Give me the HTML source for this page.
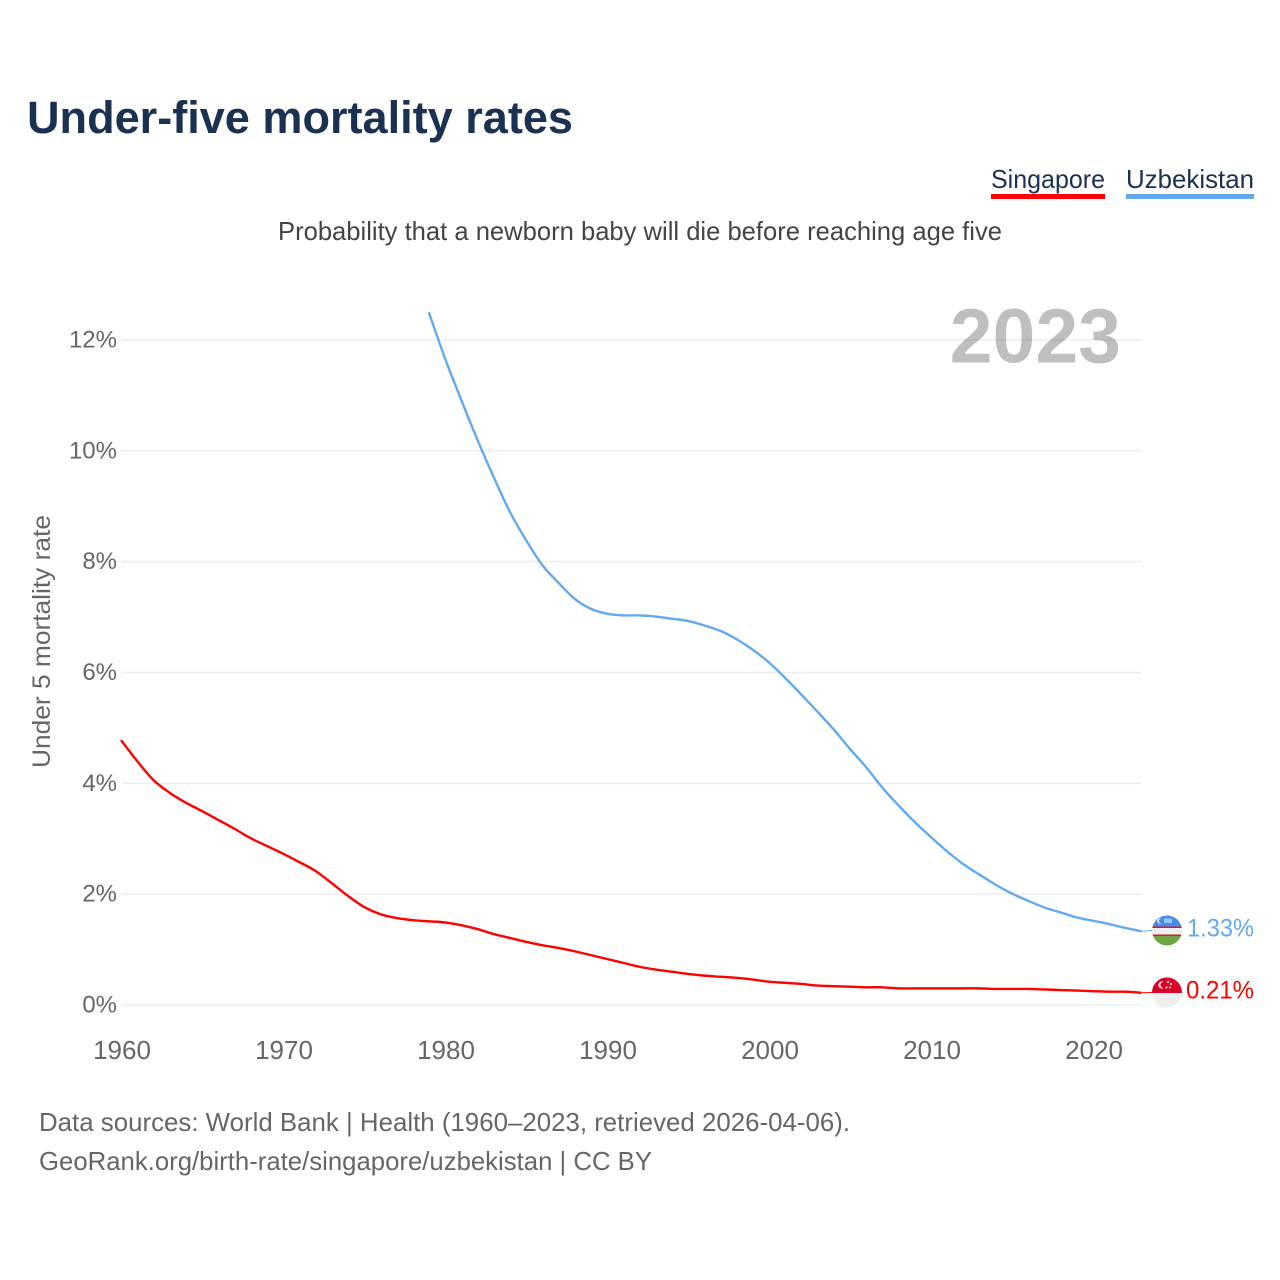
<!DOCTYPE html>
<html lang="en">
<head>
<meta charset="utf-8">
<title>Under-five mortality rates</title>
<style>
html,body{margin:0;padding:0;background:#fff;width:1280px;height:1280px;overflow:hidden}
svg{display:block}
text{font-family:"Liberation Sans",sans-serif}
</style>
</head>
<body>
<svg id="chart" xmlns="http://www.w3.org/2000/svg" width="1280" height="1280" viewBox="0 0 1280 1280">
  <defs>
    <clipPath id="clip-uz"><circle cx="1167" cy="930.5" r="15"/></clipPath>
    <clipPath id="clip-sg"><circle cx="1167" cy="992.5" r="15"/></clipPath>
  </defs>
  <rect width="1280" height="1280" fill="#fff"/>
  <text x="27" y="133" font-size="45" font-weight="700" fill="#1a3152" textLength="546" lengthAdjust="spacingAndGlyphs">Under-five mortality rates</text>

  <g style="cursor:pointer">
    <text x="991" y="188" font-size="26" fill="#1a3152" textLength="114" lengthAdjust="spacingAndGlyphs">Singapore</text>
    <rect x="991" y="194" width="114" height="5" fill="#ff0000"/>
  </g>
  <g style="cursor:pointer">
    <text x="1126" y="188" font-size="26" fill="#1a3152" textLength="128" lengthAdjust="spacingAndGlyphs">Uzbekistan</text>
    <rect x="1126" y="194" width="128" height="5" fill="#62a9ee"/>
  </g>

  <text x="278" y="240" font-size="26" fill="#444" textLength="724" lengthAdjust="spacingAndGlyphs">Probability that a newborn baby will die before reaching age five</text>

  <g id="grid"></g>
  <g id="yticks"></g>
  <g id="xticks"></g>

  <text x="1121" y="362.5" text-anchor="end" font-size="77" font-weight="700" fill="#000" fill-opacity="0.25">2023</text>

  <text transform="translate(50,768) rotate(-90)" x="0" y="0" font-size="25" fill="#666" textLength="253" lengthAdjust="spacingAndGlyphs">Under 5 mortality rate</text>

  <g id="series"></g>

  <g clip-path="url(#clip-uz)">
    <rect x="1152" y="915" width="30" height="12" fill="#3f8eea"/>
    <rect x="1152" y="926.5" width="30" height="1.6" fill="#e8112d"/>
    <rect x="1152" y="928" width="30" height="7" fill="#eeeeee"/>
    <rect x="1152" y="934.5" width="30" height="1.6" fill="#e8112d"/>
    <rect x="1152" y="936" width="30" height="10" fill="#6da544"/>
    <circle cx="1160" cy="921" r="2.6" fill="#fff"/>
    <circle cx="1161" cy="921" r="2.2" fill="#3f8eea"/>
    <rect x="1164" y="918.5" width="8" height="4.5" fill="#9cc4f3"/>
  </g>
  <g clip-path="url(#clip-sg)">
    <rect x="1152" y="977" width="30" height="16" fill="#d80027"/>
    <rect x="1152" y="993" width="30" height="15" fill="#eeeeee"/>
    <circle cx="1162" cy="985" r="3.6" fill="#fff"/>
    <circle cx="1163.6" cy="985" r="3.2" fill="#d80027"/>
    <circle cx="1168" cy="982" r="1" fill="#fff"/>
    <circle cx="1171" cy="984" r="1" fill="#fff"/>
    <circle cx="1170" cy="987.5" r="1" fill="#fff"/>
    <circle cx="1166.5" cy="987.5" r="1" fill="#fff"/>
  </g>

  <text x="1187" y="936.5" font-size="25" fill="#62a9ee" textLength="67" lengthAdjust="spacingAndGlyphs">1.33%</text>
  <text x="1186" y="998.5" font-size="25" fill="#ff0000" textLength="68" lengthAdjust="spacingAndGlyphs">0.21%</text>

  <text x="39" y="1131" font-size="26" fill="#666" textLength="811" lengthAdjust="spacingAndGlyphs">Data sources: World Bank | Health (1960–2023, retrieved 2026-04-06).</text>
  <text x="39" y="1170" font-size="26" fill="#666" textLength="613" lengthAdjust="spacingAndGlyphs">GeoRank.org/birth-rate/singapore/uzbekistan | CC BY</text>
</svg>
<script>
const yTickValues = [0, 2, 4, 6, 8, 10, 12];
const xTickYears = [1960, 1970, 1980, 1990, 2000, 2010, 2020];

const singaporeStartYear = 1960;
const singaporeValues = [
  4.78, 4.40, 4.06, 3.83, 3.65, 3.50, 3.34, 3.18, 3.01, 2.87,
  2.73, 2.58, 2.42, 2.20, 1.97, 1.77, 1.64, 1.57, 1.53, 1.51,
  1.49, 1.44, 1.37, 1.28, 1.21, 1.14, 1.08, 1.03, 0.97, 0.90,
  0.83, 0.76, 0.69, 0.64, 0.60, 0.56, 0.53, 0.51, 0.49, 0.46,
  0.42, 0.40, 0.38, 0.35, 0.34, 0.33, 0.32, 0.32, 0.30, 0.30,
  0.30, 0.30, 0.30, 0.30, 0.29, 0.29, 0.29, 0.28, 0.27, 0.26,
  0.25, 0.24, 0.24, 0.22
];

const uzbekistanStartYear = 1979;
const uzbekistanValues = [
  12.50,
  11.67, 10.92, 10.20, 9.53, 8.90, 8.39, 7.94, 7.62, 7.33, 7.15,
  7.06, 7.03, 7.03, 7.01, 6.97, 6.93, 6.85, 6.75, 6.60, 6.41,
  6.18, 5.90, 5.60, 5.29, 4.97, 4.62, 4.29, 3.92, 3.60, 3.30,
  3.03, 2.77, 2.54, 2.35, 2.17, 2.01, 1.88, 1.76, 1.67, 1.58,
  1.52, 1.46, 1.39, 1.33
];

const lastYear = 2023;

function xScale(year) { return 121 + (year - 1960) * 16.2; }
function yScale(pct) { return 1005 - pct * 55.42; }

const NS = 'http://www.w3.org/2000/svg';
const grid = document.getElementById('grid');
const yticks = document.getElementById('yticks');
const xticks = document.getElementById('xticks');
const series = document.getElementById('series');

yTickValues.forEach(function (v) {
  const line = document.createElementNS(NS, 'line');
  
  
  line.setAttribute('x1', xScale(1960));
  line.setAttribute('x2', xScale(lastYear));
  line.setAttribute('y1', yScale(v));
  line.setAttribute('y2', yScale(v));
  line.setAttribute('stroke', '#eeeeee');
  line.setAttribute('stroke-width', '1.5');
  grid.appendChild(line);

  const t = document.createElementNS(NS, 'text');
  
  
  t.setAttribute('x', 117);
  t.setAttribute('y', yScale(v) + 7.5);
  t.setAttribute('text-anchor', 'end');
  t.setAttribute('font-size', '24');
  t.setAttribute('fill', '#666');
  t.textContent = v + '%';
  yticks.appendChild(t);
});

xTickYears.forEach(function (yr) {
  const t = document.createElementNS(NS, 'text');
  
  
  t.setAttribute('x', xScale(yr) + 1);
  t.setAttribute('y', 1059);
  t.setAttribute('text-anchor', 'middle');
  t.setAttribute('font-size', '26');
  t.setAttribute('fill', '#666');
  t.textContent = yr;
  xticks.appendChild(t);
});

function smoothPath(px) {
  let d = 'M' + px[0][0].toFixed(2) + ',' + px[0][1].toFixed(2);
  for (let i = 0; i < px.length - 1; i++) {
    const p0 = px[Math.max(i - 1, 0)];
    const p1 = px[i];
    const p2 = px[i + 1];
    const p3 = px[Math.min(i + 2, px.length - 1)];
    const c1x = p1[0] + (p2[0] - p0[0]) / 6;
    const c1y = p1[1] + (p2[1] - p0[1]) / 6;
    const c2x = p2[0] - (p3[0] - p1[0]) / 6;
    const c2y = p2[1] - (p3[1] - p1[1]) / 6;
    d += 'C' + c1x.toFixed(2) + ',' + c1y.toFixed(2) + ' ' + c2x.toFixed(2) + ',' + c2y.toFixed(2) + ' ' + p2[0].toFixed(2) + ',' + p2[1].toFixed(2);
  }
  return d;
}

function drawSeries(name, startYear, values, color, flagY) {
  const px = values.map(function (v, i) {
    return [xScale(startYear + i), yScale(v)];
  });
  const path = document.createElementNS(NS, 'path');
  
  
  path.setAttribute('d', smoothPath(px));
  path.setAttribute('fill', 'none');
  path.setAttribute('stroke', color);
  path.setAttribute('stroke-width', '2.4');
  path.setAttribute('stroke-linejoin', 'round');
  series.appendChild(path);

  const last = values[values.length - 1];
  const conn = document.createElementNS(NS, 'line');
  
  
  conn.setAttribute('x1', xScale(lastYear));
  conn.setAttribute('y1', yScale(last));
  conn.setAttribute('x2', 1152);
  conn.setAttribute('y2', flagY);
  conn.setAttribute('stroke', color);
  conn.setAttribute('stroke-width', '1');
  series.appendChild(conn);
}

drawSeries('singapore', singaporeStartYear, singaporeValues, '#ff0000', 992.5);
drawSeries('uzbekistan', uzbekistanStartYear, uzbekistanValues, '#62a9ee', 930.5);
</script>
</body>
</html>
